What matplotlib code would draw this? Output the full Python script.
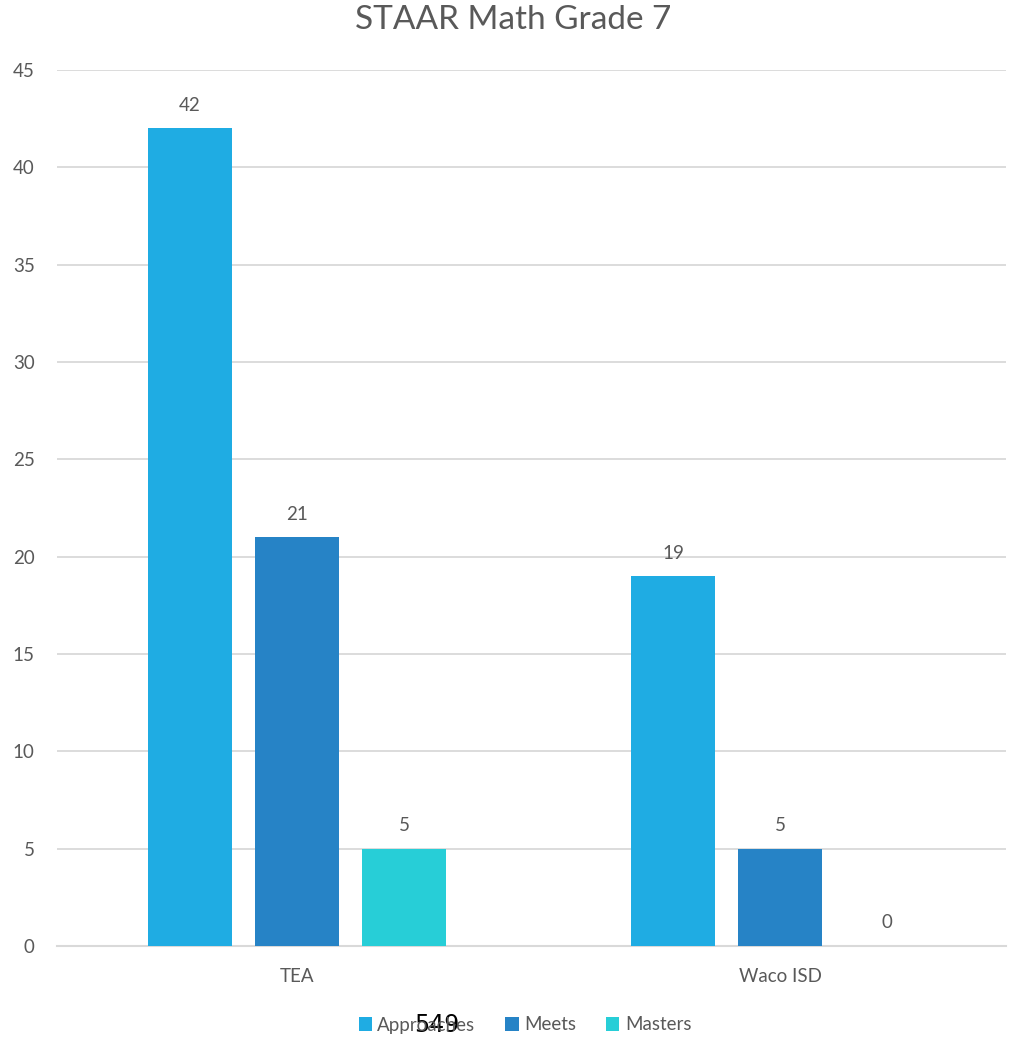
import matplotlib
matplotlib.use("Agg")
import matplotlib.pyplot as plt
import numpy as np

categories = ["TEA", "Waco ISD"]
series_names = ["Approaches", "Meets", "Masters"]
approaches = [42, 19]
meets = [21, 5]
masters = [5, 0]
yticks = [0, 5, 10, 15, 20, 25, 30, 35, 40, 45]

colors = ["#1FACE3", "#2683C6", "#27CED7"]
text_color = "#595959"
plt.rcParams['font.family'] = ['Lato', 'DejaVu Sans']

fig = plt.figure(figsize=(10.26, 10.44), dpi=100)
ax = fig.add_axes([57/1026, 98/1044, (1006-57)/1026, (946-70)/1044])

x = np.arange(len(categories))
w = 0.174
step = 0.2215
values = [approaches, meets, masters]
for i, (name, vals, c) in enumerate(zip(series_names, values, colors)):
    pos = x + (i - 1) * step
    ax.bar(pos, vals, width=w, color=c, label=name, zorder=3)
    for p, v in zip(pos, vals):
        ax.text(p, v + 0.75, str(v), ha="center", va="bottom", fontsize=13.5, color=text_color)

ax.set_xlim(-0.497, 1.468)
ax.set_ylim(0, 45)
ax.set_yticks(yticks)
ax.set_xticks(x)
ax.set_xticklabels(categories)
ax.yaxis.grid(True, color="#D9D9D9", linewidth=1.3, zorder=0)
for s in ["top", "right", "left"]:
    ax.spines[s].set_visible(False)
ax.spines["bottom"].set_color("#D9D9D9")
ax.spines["bottom"].set_linewidth(1.5)
ax.tick_params(axis="both", length=0, labelsize=13.5, colors=text_color)
ax.tick_params(axis="y", pad=16)
ax.tick_params(axis="x", pad=16)

fig.text(0.5, 1 - 20/1044, "STAAR Math Grade 7", ha="center", va="center",
         fontsize=24, color=text_color)

leg = fig.legend(loc="center", bbox_to_anchor=(525/1026, 1 - 1025/1044), ncol=3,
                 frameon=False, fontsize=13.5, handlelength=0.7, handleheight=0.7,
                 handletextpad=0.3, columnspacing=1.6)
for t in leg.get_texts():
    t.set_color(text_color)

fig.text(437/1026, 1 - 1025/1044, "549", ha="center", va="center", fontsize=17,
         color="black", family="DejaVu Sans")

fig.savefig("out.png", dpi=100, facecolor="white")
